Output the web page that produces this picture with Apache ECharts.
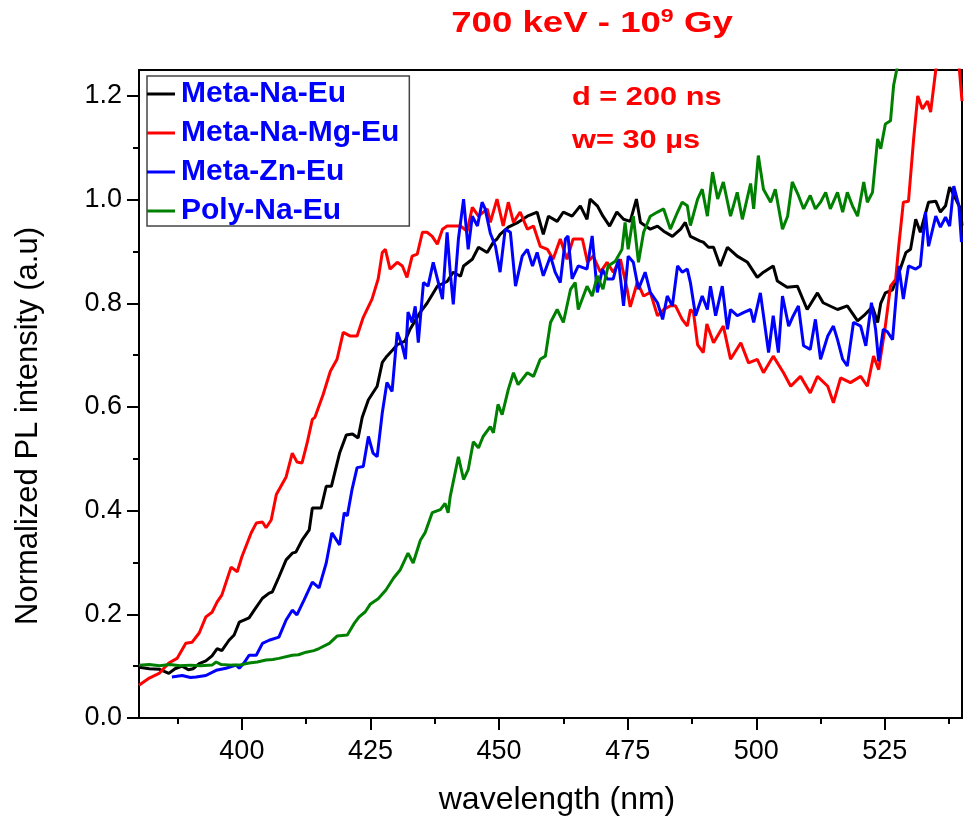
<!DOCTYPE html>
<html>
<head>
<meta charset="utf-8">
<script src="https://cdn.jsdelivr.net/npm/echarts@6/dist/echarts.min.js"></script>
<style>
html,body{margin:0;padding:0;background:#fff;}
#chart{width:964px;height:821px;}
</style>
</head>
<body>
<div id="chart"></div>
<script>
// ---- data (wavelength nm, normalized PL intensity) ----
const seriesNames = ['Meta-Na-Eu', 'Meta-Na-Mg-Eu', 'Meta-Zn-Eu', 'Poly-Na-Eu'];
const seriesColors = ['#000000', '#FF0000', '#0000FF', '#008000'];

const metaNaEu = [
[380,0.098],[382,0.095],[384,0.094],[385.8,0.086],[387,0.095],[388.4,0.1],[389.6,0.093],[390.5,0.095],[391.7,0.105],[393,0.11],
[394.2,0.12],[395.2,0.134],[396.1,0.13],[397.5,0.150],[398.5,0.16],[399.5,0.185],[401.4,0.193],[402.4,0.208],[404,0.231],[405.3,0.241],
[405.9,0.243],[407.2,0.272],[408.6,0.305],[409.8,0.318],[410.5,0.320],[411.7,0.343],[413.1,0.363],[413.7,0.405],[415.4,0.405],[416.4,0.447],
[417.4,0.447],[419,0.511],[420.3,0.546],[421.5,0.548],[422.6,0.54],[423.4,0.58],[424.6,0.614],[426.3,0.64],[427.3,0.686],[428.2,0.698],
[429.4,0.711],[430.2,0.72],[431.7,0.727],[432.7,0.75],[434.7,0.783],[436,0.80],[438,0.833],[439.9,0.842],[441.1,0.86],[442.5,0.852],
[443.1,0.872],[444.8,0.885],[446,0.908],[447.7,0.898],[448.9,0.918],[449.6,0.924],[450.2,0.933],[451.8,0.947],[453.5,0.955],[455.5,0.968],
[457.4,0.976],[458.6,0.933],[459.6,0.968],[461.3,0.958],[462.5,0.976],[464.2,0.968],[465.8,0.988],[467.1,0.962],[467.7,1.001],[469.1,0.988],
[470.2,0.968],[471.5,0.949],[472.9,0.976],[474.2,0.962],[475.5,0.958],[476.7,1.001],[477.5,0.956],[479.4,0.943],[480.8,0.949],[482,0.939],
[483.7,0.929],[485.3,0.943],[486.2,0.956],[487.2,0.929],[489.1,0.920],[489.7,0.918],[490.7,0.908],[491.7,0.908],[493,0.872],[494.4,0.908],
[496.3,0.891],[498.3,0.879],[500.2,0.850],[501.4,0.860],[503.3,0.872],[504.1,0.843],[506,0.831],[508,0.833],[509.9,0.788],[511.9,0.820],
[513,0.801],[515.8,0.788],[517.7,0.795],[519.7,0.766],[520.9,0.776],[522.6,0.793],[523.6,0.763],[524.2,0.80],[525.1,0.820],[526.5,0.826],
[527.5,0.852],[529.1,0.898],[530,0.904],[531,0.962],[531.9,0.937],[533.5,0.995],[534.9,0.997],[535.8,0.976],[536.8,0.988],[537.6,1.024],
[538.8,1.001],[539.7,0.982],[540,0.95]
];

const metaNaMgEu = [
[380,0.063],[382,0.077],[383.9,0.086],[385.8,0.106],[387.4,0.115],[389.1,0.144],[390.3,0.146],[391.7,0.164],[393,0.195],[394.2,0.204],
[395.2,0.224],[396.1,0.237],[397.9,0.291],[399.1,0.282],[400,0.311],[401.8,0.357],[402.8,0.376],[404,0.378],[404.7,0.367],[405.7,0.382],
[406.7,0.431],[408.6,0.465],[409.8,0.511],[410.7,0.494],[411.7,0.492],[412.7,0.531],[413.7,0.576],[414.2,0.58],[415.8,0.624],[417.2,0.669],
[418.5,0.692],[419.7,0.744],[421,0.737],[422.4,0.737],[423.6,0.773],[425.3,0.808],[426.5,0.847],[427.3,0.898],[427.9,0.904],[428.8,0.866],
[430.2,0.879],[431.2,0.872],[432.1,0.850],[433.1,0.891],[434.1,0.895],[435.1,0.937],[436,0.937],[437,0.929],[438,0.914],[439,0.943],
[439.9,0.949],[441.1,0.949],[442.5,0.949],[443.8,0.939],[444.8,0.985],[446,0.968],[447.7,0.982],[448.3,0.956],[449.6,1.001],[450.8,0.949],
[451.8,0.995],[452.8,0.956],[454.1,0.976],[455.5,0.943],[456.7,0.949],[458,0.910],[459.4,0.904],[460.5,0.885],[461.9,0.924],[463.2,0.885],
[464.4,0.924],[466.2,0.924],[467.2,0.879],[468.3,0.891],[469.7,0.860],[471,0.879],[472.2,0.860],[473.6,0.885],[474.9,0.827],[475.5,0.793],
[476.9,0.841],[478.1,0.814],[479.4,0.821],[480.8,0.776],[482,0.788],[483.3,0.795],[484.3,0.795],[485.6,0.769],[486.6,0.756],[487.2,0.788],
[487.8,0.782],[488.6,0.72],[489.7,0.705],[490.4,0.76],[491.7,0.724],[493.6,0.756],[495,0.692],[497,0.724],[498.5,0.685],[500.2,0.692],
[501.4,0.666],[503.3,0.698],[505.3,0.666],[506.7,0.640],[508.6,0.659],[510.5,0.627],[511.9,0.659],[513.9,0.640],[515,0.608],[516.4,0.656],
[518.3,0.647],[520.3,0.659],[521.6,0.640],[522.8,0.698],[523.8,0.672],[525.1,0.756],[526.1,0.833],[527.1,0.846],[527.7,0.910],[528.6,0.995],
[529.6,0.997],[530.6,1.117],[531.4,1.2],[532.3,1.175],[533.3,1.19],[533.9,1.169],[534.9,1.25],[536,1.32],[537.5,1.36],[538.8,1.3],
[539.5,1.25],[540,1.19]
];

const metaZnEu = [
[386.4,0.079],[388.4,0.082],[390,0.078],[391.1,0.079],[393,0.082],[395,0.092],[396.9,0.096],[398.9,0.102],[399.5,0.096],[400.4,0.106],
[401.4,0.121],[402.8,0.121],[404,0.144],[405.3,0.150],[407.2,0.156],[408.6,0.189],[409.8,0.208],[410.7,0.199],[412.1,0.228],[413.7,0.262],
[415,0.251],[416.4,0.299],[417.5,0.357],[419,0.334],[419.9,0.396],[420.5,0.39],[421.4,0.44],[422.4,0.483],[423.6,0.485],[424.6,0.543],
[425.5,0.511],[426.3,0.504],[427.3,0.589],[428.2,0.647],[429.2,0.630],[430.2,0.744],[431.2,0.717],[431.8,0.692],[432.3,0.783],[433.1,0.763],
[433.7,0.794],[434.3,0.724],[435.3,0.840],[436.2,0.833],[437.2,0.879],[438.2,0.840],[439,0.808],[439.9,0.937],[440.5,0.860],[441.1,0.798],
[442.1,0.924],[443.1,1.001],[444,0.904],[444.8,0.968],[445.8,0.949],[446.7,0.995],[447.3,0.982],[448.3,0.935],[449.3,0.91],[450.2,0.860],
[451.2,0.943],[452.2,0.937],[453.2,0.833],[454.5,0.891],[455.5,0.904],[456.5,0.872],[457.4,0.898],[458.6,0.853],[460,0.891],[460.9,0.860],
[461.9,0.840],[462.9,0.924],[463.4,0.930],[464.2,0.847],[465.4,0.872],[467.1,0.866],[468.1,0.930],[469.1,0.821],[470.1,0.866],[471,0.847],
[472.2,0.847],[473.2,0.885],[474.2,0.795],[475.1,0.891],[476.1,0.879],[477.1,0.827],[478.4,0.860],[479.4,0.821],[480.8,0.801],[481.8,0.769],
[482.7,0.814],[483.7,0.795],[484.7,0.872],[485.6,0.860],[486.6,0.866],[487.2,0.84],[488.2,0.776],[489.5,0.814],[490.5,0.788],[491.1,0.833],
[492.1,0.776],[493.4,0.833],[494.4,0.750],[495,0.788],[496.3,0.776],[497.5,0.782],[498.9,0.788],[499.5,0.763],[500.8,0.820],[502.4,0.705],
[503.3,0.776],[504.3,0.705],[505.1,0.814],[506.3,0.756],[507.2,0.776],[508.2,0.795],[509.2,0.718],[510.5,0.711],[511.5,0.769],[512.5,0.692],
[513.9,0.737],[515,0.756],[515.8,0.730],[516.8,0.692],[517.7,0.679],[518.9,0.763],[520.3,0.756],[521.3,0.718],[522.4,0.801],[523.2,0.75],
[523.8,0.688],[524.7,0.750],[525.5,0.745],[526.5,0.730],[527.7,0.872],[528.6,0.808],[529.6,0.872],[531,0.866],[531.9,0.872],[532.9,0.976],
[533.5,0.910],[534.9,0.968],[535.8,0.947],[536.8,0.966],[537.6,0.949],[538.4,1.026],[539.4,0.988],[539.9,0.918]
];

const polyNaEu = [
[380,0.102],[382,0.103],[384,0.101],[386,0.103],[388,0.101],[390,0.102],[392,0.101],[394.2,0.102],[395,0.108],[396,0.103],
[398,0.102],[399.5,0.102],[401.4,0.106],[403,0.108],[404.7,0.112],[406,0.113],[407.2,0.115],[409.8,0.121],[411,0.122],[412.5,0.127],
[414,0.13],[415,0.134],[417,0.144],[418.5,0.158],[420.5,0.160],[421.8,0.182],[422.8,0.195],[424,0.205],[425,0.22],[426.5,0.23],
[428,0.247],[429.5,0.27],[430.8,0.286],[432.3,0.318],[433.3,0.299],[434.7,0.343],[435.6,0.357],[437,0.396],[438.6,0.402],[439.5,0.414],
[440.1,0.396],[440.5,0.427],[442.1,0.504],[443.1,0.460],[444,0.479],[445,0.533],[446,0.521],[446.9,0.543],[448.3,0.562],[448.9,0.55],
[449.8,0.605],[450.6,0.585],[451.8,0.634],[452.8,0.666],[453.7,0.643],[455.5,0.666],[456.7,0.659],[458,0.692],[459,0.698],[460,0.763],
[461.3,0.788],[462.5,0.763],[463.9,0.827],[464.8,0.840],[465.4,0.788],[467.1,0.833],[468.1,0.814],[469.1,0.853],[470.2,0.827],[471.2,0.872],
[472.6,0.881],[473.9,0.904],[474.5,0.956],[475.1,0.904],[476.1,0.968],[477.1,0.879],[478.1,0.937],[479.4,0.968],[480.8,0.976],[482,0.982],
[483.3,0.943],[484.7,0.976],[485.6,0.995],[486.6,0.988],[487.2,0.95],[488.6,1.001],[489.5,1.02],[490.5,0.968],[491.5,1.053],[492.5,1.001],
[493.6,1.034],[495,0.968],[496.3,1.014],[497.3,0.962],[498.9,1.031],[499.5,0.982],[500.4,1.085],[501.4,1.020],[502.8,0.995],[503.7,1.020],
[505.1,0.943],[506.1,0.968],[507,1.034],[508.2,1.008],[509.2,0.982],[510.5,1.008],[511.5,0.982],[512.5,0.995],[513.5,1.014],[514.4,0.982],
[515.8,1.014],[516.8,0.976],[517.7,1.014],[518.7,0.988],[519.7,0.968],[520.9,1.034],[521.6,0.995],[522.6,1.014],[523.6,1.117],[524.2,1.098],
[525.1,1.146],[526.1,1.152],[526.7,1.22],[527.5,1.26],[529,1.35],[531,1.42],[534,1.5],[537,1.55],[540,1.6]
];

const xMajorTicks = [400, 425, 450, 475, 500, 525];
const xMinorTicks = [387.5, 412.5, 437.5, 462.5, 487.5, 512.5, 537.5];
const yMajorTicks = [0, 0.2, 0.4, 0.6, 0.8, 1.0, 1.2];
const yMinorTicks = [0.1, 0.3, 0.5, 0.7, 0.9, 1.1];
const xRange = [380, 540];
const yRange = [0, 1.25];

const titleText = ['700 keV - 10', '9', ' Gy'];
const noteLines = ['d = 200 ns', 'w= 30 µs'];

// ---- chart ----
const FONT = 'Liberation Sans, Arial, sans-serif';
const chart = echarts.init(document.getElementById('chart'), null, {renderer: 'canvas'});
const dataSets = [metaNaEu, metaNaMgEu, metaZnEu, polyNaEu];

const tickLine = {color: '#000', width: 2};

const option = {
  animation: false,
  backgroundColor: '#fff',
  textStyle: {fontFamily: FONT},
  grid: {left: 139, right: 2, top: 70, bottom: 103, show: true, borderColor: '#000', borderWidth: 2, backgroundColor: 'transparent'},
  legend: {
    data: seriesNames,
    orient: 'vertical',
    left: 147, top: 76,
    padding: [3, 10, 0, 0],
    itemGap: 9,
    itemWidth: 28, itemHeight: 3,
    icon: 'rect',
    backgroundColor: '#fff',
    borderColor: '#444', borderWidth: 1.5,
    textStyle: {color: '#0000FF', fontWeight: 'bold', fontSize: 30, fontFamily: FONT, lineHeight: 30, padding: [0, 0, 0, 1]}
  },
  xAxis: [{
    type: 'value', min: xRange[0], max: xRange[1],
    name: 'wavelength (nm)', nameLocation: 'middle', nameGap: 66,
    nameTextStyle: {fontSize: 32, color: '#000', fontFamily: FONT, padding: [0, 0, 0, 13]},
    axisLine: {show: true, lineStyle: {color: '#000', width: 2}},
    axisTick: {show: true, inside: false, length: 12, lineStyle: tickLine, customValues: xMajorTicks},
    axisLabel: {customValues: xMajorTicks, fontSize: 27, color: '#000', fontFamily: FONT, margin: 20},
    splitLine: {show: false}
  }, {
    type: 'value', min: xRange[0], max: xRange[1], position: 'bottom',
    axisLine: {show: false},
    axisTick: {show: true, inside: false, length: 6, lineStyle: tickLine, customValues: xMinorTicks},
    axisLabel: {show: false},
    splitLine: {show: false}
  }],
  yAxis: [{
    type: 'value', min: yRange[0], max: yRange[1],
    name: 'Normalized PL intensity (a.u)', nameLocation: 'middle', nameGap: 95,
    nameTextStyle: {fontSize: 31, color: '#000', fontFamily: FONT, padding: [0, 64, 0, 0]},
    axisLine: {show: true, lineStyle: {color: '#000', width: 2}},
    axisTick: {show: true, inside: false, length: 12, lineStyle: tickLine, customValues: yMajorTicks},
    axisLabel: {customValues: yMajorTicks, fontSize: 27, color: '#000', fontFamily: FONT, margin: 17,
      formatter: v => Number(v).toFixed(1)},
    splitLine: {show: false}
  }, {
    type: 'value', min: yRange[0], max: yRange[1], position: 'left',
    axisLine: {show: false},
    axisTick: {show: true, inside: false, length: 6, lineStyle: tickLine, customValues: yMinorTicks},
    axisLabel: {show: false},
    splitLine: {show: false}
  }],
  series: seriesNames.map((name, i) => ({
    name: name, type: 'line', xAxisIndex: 0, yAxisIndex: 0,
    data: dataSets[i], showSymbol: false, symbol: 'none', smooth: false, clip: true,
    color: seriesColors[i],
    lineStyle: {color: seriesColors[i], width: 3},
    z: 2 + i
  })),
  graphic: [{
    type: 'text', x: 592, y: 7, scaleX: 1.22, z: 100,
    style: {
      text: '{a|' + titleText[0] + '}{s|' + titleText[1] + '}{a|' + titleText[2] + '}',
      align: 'center', verticalAlign: 'top',
      rich: {
        a: {fontSize: 30, fontWeight: 'bold', fill: '#FF0000', fontFamily: FONT, lineHeight: 34},
        s: {fontSize: 19, fontWeight: 'bold', fill: '#FF0000', fontFamily: FONT, lineHeight: 20, verticalAlign: 'top'}
      }
    }
  }, {
    type: 'text', x: 572, y: 98, scaleX: 1.23, z: 100,
    style: {text: noteLines[0], fontSize: 25, fontWeight: 'bold', fill: '#FF0000', fontFamily: FONT, align: 'left', verticalAlign: 'middle'}
  }, {
    type: 'text', x: 572, y: 141, scaleX: 1.23, z: 100,
    style: {text: noteLines[1], fontSize: 25, fontWeight: 'bold', fill: '#FF0000', fontFamily: FONT, align: 'left', verticalAlign: 'middle'}
  }]
};
chart.setOption(option);
</script>
</body>
</html>
